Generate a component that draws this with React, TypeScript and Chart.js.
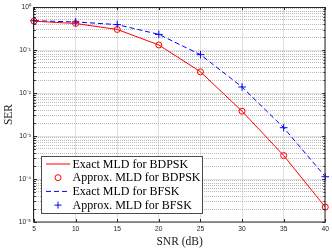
import React, { useEffect, useRef } from 'react';
import { Chart, registerables } from 'chart.js';

Chart.register(...registerables);

// ---- data ----
const snrDb = [5, 10, 15, 20, 25, 30, 35, 40];
const bdpskExact = [0.468, 0.414, 0.301, 0.131, 0.0311, 0.00377, 0.000352, 0.0000222];
const bdpskApprox = [0.468, 0.414, 0.301, 0.131, 0.0311, 0.00377, 0.000352, 0.0000222];
const bfskExact = [0.48, 0.45, 0.39, 0.231, 0.078, 0.0138, 0.00156, 0.000113];
const bfskApprox = [0.48, 0.45, 0.39, 0.231, 0.078, 0.0138, 0.00156, 0.000113];
const seriesLabels = [
  'Exact MLD for BDPSK',
  'Approx. MLD for BDPSK',
  'Exact MLD for BFSK',
  'Approx. MLD for BFSK',
];
const xTickValues = [5, 10, 15, 20, 25, 30, 35, 40];
const yDecadeExponents = [-5, -4, -3, -2, -1, 0];
const xTitle = 'SNR (dB)';
const yTitle = 'SER';

const RED = 'rgb(255,0,0)';
const BLUE = 'rgb(0,0,255)';
const AXIS = '#262626';
const MAJOR_GRID = '#e0e0e0';
const MINOR_GRID = '#b8b8b8';

const SUP: Record<string, string> = {
  '-': '\u207B', '0': '\u2070', '1': '\u00B9', '2': '\u00B2', '3': '\u00B3',
  '4': '\u2074', '5': '\u2075', '6': '\u2076', '7': '\u2077', '8': '\u2078', '9': '\u2079',
};
const sup = (n: number) => String(n).split('').map((c) => SUP[c] ?? c).join('');
const isDecade = (v: number) => {
  const l = Math.log10(v);
  return Math.abs(l - Math.round(l)) < 1e-6;
};

function buildYTicks() {
  const vals: number[] = [];
  for (let i = 0; i < yDecadeExponents.length; i++) {
    const e = yDecadeExponents[i];
    const base = Math.pow(10, e);
    if (i === yDecadeExponents.length - 1) {
      vals.push(base);
    } else {
      for (let m = 1; m <= 9; m++) vals.push(m * base);
    }
  }
  return vals;
}

const pts = (ys: number[]) => snrDb.map((x, i) => ({ x, y: ys[i] }));

export default function App() {
  const ref = useRef<HTMLCanvasElement>(null);

  useEffect(() => {
    const canvas = ref.current;
    if (!canvas) return;

    const boxPlugin = {
      id: 'matlabBox',
      afterDraw(chart: any) {
        const { ctx, chartArea: a, scales } = chart;
        ctx.save();
        // inward ticks
        ctx.strokeStyle = AXIS;
        ctx.lineWidth = 1;
        ctx.beginPath();
        for (const t of scales.y.ticks) {
          const py = Math.round(scales.y.getPixelForValue(t.value)) + 0.5;
          const len = isDecade(t.value) ? 3 : 1.8;
          ctx.moveTo(a.left, py);
          ctx.lineTo(a.left + len, py);
          ctx.moveTo(a.right, py);
          ctx.lineTo(a.right - len, py);
        }
        for (const t of scales.x.ticks) {
          const px = Math.round(scales.x.getPixelForValue(t.value)) + 0.5;
          ctx.moveTo(px, a.bottom);
          ctx.lineTo(px, a.bottom - 3);
          ctx.moveTo(px, a.top);
          ctx.lineTo(px, a.top + 3);
        }
        ctx.stroke();
        // axes box
        ctx.strokeRect(Math.round(a.left) - 0.5, Math.round(a.top) + 0.5,
          Math.round(a.right - a.left) + 0.5, Math.round(a.bottom - a.top) - 0.5);

        // legend
        const lx = a.left + 7.5;
        const ly = a.bottom - 65.5;
        const lw = 161;
        const lh = 57;
        ctx.fillStyle = '#ffffff';
        ctx.fillRect(lx, ly, lw, lh);
        ctx.strokeStyle = '#4a4a4a';
        ctx.lineWidth = 1;
        ctx.strokeRect(lx, ly, lw, lh);
        const rowH = 13.7;
        ctx.font = '12px "Liberation Serif", serif';
        ctx.textBaseline = 'middle';
        ctx.textAlign = 'left';
        chart.data.datasets.forEach((ds: any, i: number) => {
          const cy = ly + 7.5 + i * rowH;
          const x0 = lx + 4.5;
          const x1 = lx + 28.5;
          const cx = (x0 + x1) / 2;
          ctx.save();
          ctx.strokeStyle = ds.borderColor;
          ctx.lineWidth = 1;
          if (ds.showLine === false) {
            ctx.beginPath();
            if (ds.pointStyle === 'circle') {
              ctx.arc(cx, cy, 3, 0, Math.PI * 2);
            } else {
              ctx.moveTo(cx - 3.5, cy);
              ctx.lineTo(cx + 3.5, cy);
              ctx.moveTo(cx, cy - 3.5);
              ctx.lineTo(cx, cy + 3.5);
            }
            ctx.stroke();
          } else {
            ctx.setLineDash(ds.borderDash || []);
            ctx.beginPath();
            ctx.moveTo(x0, cy);
            ctx.lineTo(x1, cy);
            ctx.stroke();
          }
          ctx.restore();
          ctx.fillStyle = '#000000';
          ctx.fillText(ds.label, lx + 31, cy + 0.5);
        });
        ctx.restore();
      },
    };

    const chart = new Chart(canvas, {
      type: 'line',
      data: {
        datasets: [
          {
            label: seriesLabels[0],
            data: pts(bdpskExact),
            borderColor: RED,
            backgroundColor: RED,
            borderWidth: 1,
            pointRadius: 0,
            fill: false,
          },
          {
            label: seriesLabels[1],
            data: pts(bdpskApprox),
            borderColor: RED,
            backgroundColor: 'rgba(0,0,0,0)',
            showLine: false,
            pointStyle: 'circle',
            pointRadius: 3,
            pointBorderWidth: 1,
            clip: false,
          },
          {
            label: seriesLabels[2],
            data: pts(bfskExact),
            borderColor: BLUE,
            backgroundColor: BLUE,
            borderWidth: 1,
            borderDash: [5, 3],
            pointRadius: 0,
            fill: false,
          },
          {
            label: seriesLabels[3],
            data: pts(bfskApprox),
            borderColor: BLUE,
            backgroundColor: 'rgba(0,0,0,0)',
            showLine: false,
            pointStyle: 'cross',
            pointRadius: 3.8,
            pointBorderWidth: 1,
            clip: false,
          },
        ] as any,
      },
      options: {
        animation: false,
        responsive: false,
        devicePixelRatio: 1,
        layout: { padding: { top: 6, right: 4, left: 0, bottom: 0 } },
        plugins: {
          legend: { display: false },
          tooltip: { enabled: false },
        },
        scales: {
          x: {
            type: 'linear',
            min: 5,
            max: 40,
            afterBuildTicks: (scale: any) => {
              scale.ticks = xTickValues.map((v) => ({ value: v }));
            },
            afterFit: (scale: any) => {
              scale.height = 27;
            },
            ticks: {
              autoSkip: false,
              maxRotation: 0,
              padding: 3,
              color: AXIS,
              font: { family: '"Liberation Sans", Arial, sans-serif', size: 6.7 },
            },
            grid: {
              color: MAJOR_GRID,
              lineWidth: 1,
              drawTicks: false,
            },
            border: { display: false },
            title: {
              display: true,
              text: xTitle,
              color: '#1a1a1a',
              padding: { top: 0, bottom: 0.5 },
              font: { family: '"Liberation Serif", serif', size: 11.5, weight: 'normal' },
            },
          },
          y: {
            type: 'logarithmic',
            min: 1e-5,
            max: 1,
            afterBuildTicks: (scale: any) => {
              scale.ticks = buildYTicks().map((v) => ({ value: v }));
            },
            afterFit: (scale: any) => {
              scale.width = 34;
            },
            ticks: {
              autoSkip: false,
              padding: 3,
              color: AXIS,
              font: { family: '"Liberation Sans", Arial, sans-serif', size: 6.7 },
              callback: (value: any) => {
                const v = Number(value);
                return isDecade(v) ? '10' + sup(Math.round(Math.log10(v))) : '';
              },
            },
            grid: {
              color: (c: any) => (c.tick && !isDecade(c.tick.value) ? MINOR_GRID : MAJOR_GRID),
              lineWidth: 1,
              drawTicks: false,
            },
            border: {
              display: false,
              dash: (c: any) => (c.tick && !isDecade(c.tick.value) ? [1, 1] : []),
            },
            title: {
              display: true,
              text: yTitle,
              color: '#1a1a1a',
              padding: { top: 2.5, bottom: 0 },
              font: { family: '"Liberation Serif", serif', size: 11.5, weight: 'normal' },
            },
          },
        },
      } as any,
      plugins: [boxPlugin],
    });

    return () => chart.destroy();
  }, []);

  return (
    <div style={{ position: 'absolute', left: 0, top: 0, width: 332, height: 249, background: '#fff' }}>
      <canvas ref={ref} width={332} height={249} style={{ display: 'block' }} />
    </div>
  );
}
